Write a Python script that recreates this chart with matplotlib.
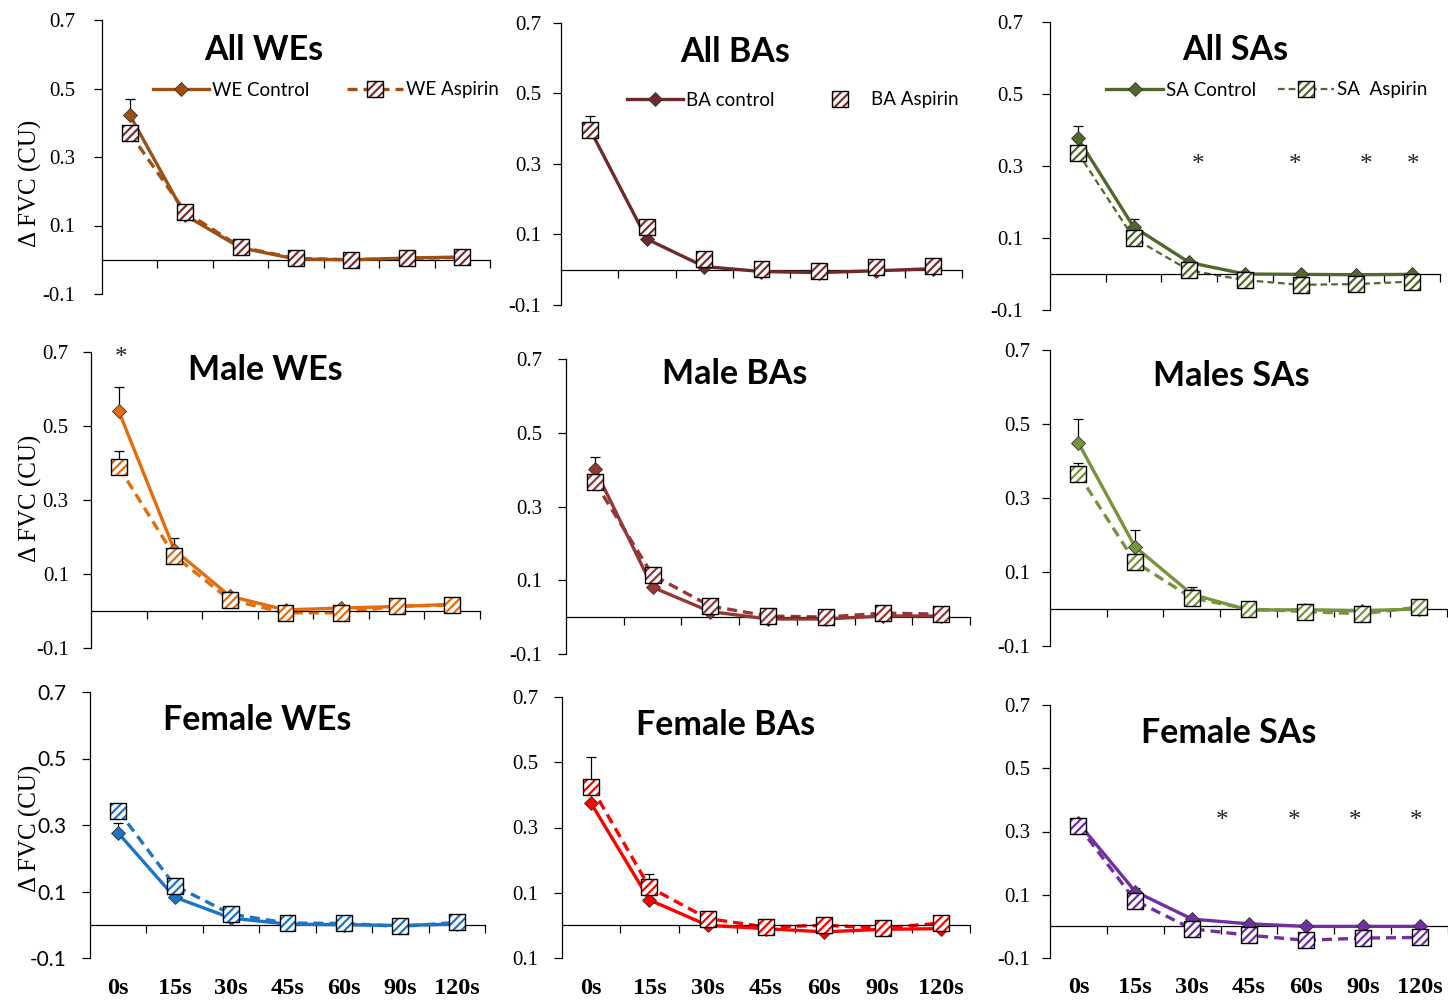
import numpy as np
import matplotlib.pyplot as plt
from matplotlib.legend_handler import HandlerBase
from matplotlib.lines import Line2D
from matplotlib.patches import Rectangle

W, H = 1448, 1002

times = ["0s", "15s", "30s", "45s", "60s", "90s", "120s"]
yticks = [-0.1, 0.1, 0.3, 0.5, 0.7]

# All WEs
we_all_ctrl = [0.423, 0.13, 0.035, 0.002, 0.0, 0.005, 0.008]
we_all_asp = [0.37, 0.14, 0.037, 0.004, 0.0, 0.004, 0.007]
we_all_ctrl_err = [0.046, 0, 0, 0, 0, 0, 0]
we_all_asp_err = [0, 0, 0, 0, 0, 0, 0]

# All BAs
ba_all_ctrl = [0.40, 0.087, 0.009, -0.005, -0.008, -0.003, 0.003]
ba_all_asp = [0.397, 0.12, 0.03, 0.001, -0.003, 0.007, 0.012]
ba_all_ctrl_err = [0.035, 0, 0, 0, 0, 0, 0]
ba_all_asp_err = [0, 0, 0, 0, 0, 0, 0]

# All SAs
sa_all_ctrl = [0.377, 0.131, 0.032, 0.0, -0.001, -0.002, -0.001]
sa_all_asp = [0.337, 0.10, 0.01, -0.017, -0.03, -0.028, -0.021]
sa_all_ctrl_err = [0.033, 0.022, 0, 0, 0, 0, 0]
sa_all_asp_err = [0, 0, 0, 0, 0, 0, 0]
sa_all_stars = [2.16, 3.9, 5.17, 6.02]
sa_all_star_y = 0.303

# Male WEs
we_m_ctrl = [0.54, 0.165, 0.04, 0.003, 0.008, 0.012, 0.018]
we_m_asp = [0.389, 0.149, 0.03, -0.005, -0.005, 0.013, 0.016]
we_m_ctrl_err = [0.065, 0.032, 0, 0, 0, 0, 0]
we_m_asp_err = [0.043, 0, 0, 0, 0, 0, 0]
we_m_stars = [0.04]
we_m_star_y = 0.685

# Male BAs
ba_m_ctrl = [0.402, 0.081, 0.015, -0.005, -0.005, 0.003, 0.003]
ba_m_asp = [0.366, 0.114, 0.03, 0.003, 0.0, 0.011, 0.008]
ba_m_ctrl_err = [0.032, 0, 0, 0, 0, 0, 0]
ba_m_asp_err = [0, 0, 0, 0, 0, 0, 0]

# Males SAs
sa_m_ctrl = [0.449, 0.168, 0.04, -0.003, -0.002, -0.005, 0.0]
sa_m_asp = [0.365, 0.127, 0.03, 0.0, -0.007, -0.013, 0.005]
sa_m_ctrl_err = [0.065, 0.046, 0.02, 0, 0, 0, 0]
sa_m_asp_err = [0.03, 0, 0, 0, 0, 0, 0]

# Female WEs
we_f_ctrl = [0.276, 0.083, 0.02, 0.002, 0.0, -0.002, 0.002]
we_f_asp = [0.343, 0.118, 0.032, 0.005, 0.004, -0.005, 0.007]
we_f_ctrl_err = [0.03, 0, 0, 0, 0, 0, 0]
we_f_asp_err = [0.012, 0, 0, 0, 0, 0, 0]

# Female BAs
ba_f_ctrl = [0.374, 0.078, 0.0, -0.01, -0.02, -0.012, -0.01]
ba_f_asp = [0.425, 0.117, 0.021, -0.005, 0.0, -0.008, 0.007]
ba_f_ctrl_err = [0, 0, 0, 0, 0, 0, 0]
ba_f_asp_err = [0.09, 0.041, 0, 0, 0, 0, 0]

# Female SAs
sa_f_ctrl = [0.327, 0.11, 0.023, 0.008, 0.0, 0.0, 0.0]
sa_f_asp = [0.318, 0.081, -0.008, -0.028, -0.044, -0.037, -0.035]
sa_f_ctrl_err = [0, 0.01, 0, 0, 0, 0, 0]
sa_f_asp_err = [0, 0, 0, 0, 0, 0, 0]
sa_f_stars = [2.52, 3.8, 4.86, 5.93]
sa_f_star_y = 0.332

plt.rcParams['hatch.linewidth'] = 1.6
SERIF = 'Liberation Serif'
SANS = 'Lato'
SQ = 11.5  # square marker side in points


class HatchSquareHandler(HandlerBase):
    """Legend key: optional dashed line with a hatched square on top."""

    def __init__(self, color, hatch_color, line=True, lw=2.4):
        super().__init__()
        self.color, self.hatch_color, self.line, self.lw = color, hatch_color, line, lw

    def create_artists(self, legend, orig_handle, xdescent, ydescent,
                       width, height, fontsize, trans):
        cx = -xdescent + width / 2
        cy = -ydescent + height / 2
        arts = []
        if self.line:
            arts.append(Line2D([-xdescent, -xdescent + width], [cy, cy],
                               color=self.color, lw=self.lw, dashes=(3, 1.8),
                               transform=trans))
        arts.append(Rectangle((cx - SQ / 2, cy - SQ / 2), SQ, SQ,
                              facecolor='white', edgecolor=self.hatch_color,
                              hatch='////', lw=0, transform=trans))
        arts.append(Rectangle((cx - SQ / 2, cy - SQ / 2), SQ, SQ,
                              facecolor='none', edgecolor='black', lw=1.0,
                              transform=trans))
        return arts


# box = (left, top, right, bottom) in pixels
panels = [
    dict(title="All WEs", tpos=(264, 50), box=(102, 20, 490, 294), pad=13,
         ctrl=we_all_ctrl, asp=we_all_asp, ce=we_all_ctrl_err, ae=we_all_asp_err,
         color='#9E5014', hatch='#7B2E2E',
         legend=("WE Control", "WE Aspirin"), lpos=(326, 90), colsp=2.0),
    dict(title="All BAs", tpos=(735, 52), box=(561, 23, 962, 305), pad=8,
         ctrl=ba_all_ctrl, asp=ba_all_asp, ce=ba_all_ctrl_err, ae=ba_all_asp_err,
         color='#6E2A2A', hatch='#7B2E2E', asp_line=False,
         legend=("BA control", "BA Aspirin"), lpos=(793, 100), colsp=2.0),
    dict(title="All SAs", tpos=(1235, 50), box=(1050, 22, 1440, 310), pad=13,
         ctrl=sa_all_ctrl, asp=sa_all_asp, ce=sa_all_ctrl_err, ae=sa_all_asp_err,
         color='#50682A', hatch='#50682A', asp_lw=1.6,
         stars=sa_all_stars, star_y=sa_all_star_y,
         legend=("SA Control", "SA  Aspirin"), lpos=(1267, 90), colsp=1.2),
    dict(title="Male WEs", tpos=(265, 370), box=(91, 352, 480, 648), pad=10,
         ctrl=we_m_ctrl, asp=we_m_asp, ce=we_m_ctrl_err, ae=we_m_asp_err,
         color='#E46C0A', hatch='#E46C0A', stars=we_m_stars, star_y=we_m_star_y),
    dict(title="Male BAs", tpos=(735, 374), box=(566, 359, 970, 654), pad=11,
         ctrl=ba_m_ctrl, asp=ba_m_asp, ce=ba_m_ctrl_err, ae=ba_m_asp_err,
         color='#953735', hatch='#953735'),
    dict(title="Males SAs", tpos=(1231, 376), box=(1050, 350, 1447, 646), pad=8,
         ctrl=sa_m_ctrl, asp=sa_m_asp, ce=sa_m_ctrl_err, ae=sa_m_asp_err,
         color='#77933C', hatch='#77933C'),
    dict(title="Female WEs", tpos=(257, 720), box=(90, 692, 485, 958), pad=11,
         ctrl=we_f_ctrl, asp=we_f_asp, ce=we_f_ctrl_err, ae=we_f_asp_err,
         color='#1B75C2', hatch='#1B75C2', tickfont=SANS),
    dict(title="Female BAs", tpos=(726, 725), box=(562, 697, 970, 958), pad=11,
         ctrl=ba_f_ctrl, asp=ba_f_asp, ce=ba_f_ctrl_err, ae=ba_f_asp_err,
         color='#FF0000', hatch='#FF0000',
         ylabels=["0.1", "0.1", "0.3", "0.5", "0.7"]),
    dict(title="Female SAs", tpos=(1229, 733), box=(1050, 705, 1448, 958), pad=8,
         ctrl=sa_f_ctrl, asp=sa_f_asp, ce=sa_f_ctrl_err, ae=sa_f_asp_err,
         color='#7030A0', hatch='#7030A0',
         stars=sa_f_stars, star_y=sa_f_star_y),
]

fig = plt.figure(figsize=(W / 100, H / 100), dpi=100)

for k, p in enumerate(panels):
    plt.rcParams['hatch.color'] = p['hatch']
    l, t, r, b = p['box']
    ax = fig.add_axes([l / W, 1 - b / H, (r - l) / W, (b - t) / H])
    x = np.arange(len(times))
    c = p['color']

    # upper error bars only
    for vals, errs in ((p['ctrl'], p['ce']), (p['asp'], p['ae'])):
        e = np.array(errs, dtype=float)
        m = e > 0
        if m.any():
            ax.errorbar(x[m], np.array(vals)[m], yerr=[np.zeros(m.sum()), e[m]],
                        fmt='none', ecolor='black', elinewidth=0.9,
                        capsize=3.5, capthick=0.9, zorder=2.5)

    ctrl_line, = ax.plot(x, p['ctrl'], color=c, lw=2.4, marker='D', ms=7,
                         mfc=c, mec='#333333', mew=0.6, zorder=3)
    asp_line = p.get('asp_line', True)
    if asp_line:
        ax.plot(x, p['asp'], color=c, lw=p.get('asp_lw', 2.4),
                dashes=(3, 1.8), zorder=2)
    ax.scatter(x, p['asp'], s=SQ ** 2, marker='s', facecolor='white',
               edgecolor=p['hatch'], hatch='////', linewidths=0, zorder=4)
    ax.scatter(x, p['asp'], s=SQ ** 2, marker='s', facecolor='none',
               edgecolor='black', linewidths=1.0, zorder=5)

    for sx in p.get('stars', []):
        ax.text(sx, p['star_y'], "*", ha='center', va='center',
                family=SERIF, fontsize=18, color='#222222')

    ax.set_xlim(-0.5, 6.5)
    ax.set_ylim(-0.1, 0.7)
    ax.spines[['top', 'right']].set_visible(False)
    ax.spines['bottom'].set_position(('data', 0))
    for s in ('left', 'bottom'):
        ax.spines[s].set_linewidth(0.9)
    ax.set_xticks(np.arange(0.5, 7, 1))
    ax.set_xticklabels([])
    ax.set_yticks(yticks)
    ax.set_yticklabels(p.get('ylabels', ["-0.1", "0.1", "0.3", "0.5", "0.7"]),
                       family=p.get('tickfont', SERIF), fontsize=15)
    ax.tick_params(axis='x', direction='out', length=6, width=0.9)
    ax.tick_params(axis='y', direction='out', length=6, width=0.9, pad=p['pad'])
    ax.patch.set_alpha(0)

    fig.text(p['tpos'][0] / W, 1 - p['tpos'][1] / H, p['title'], ha='center',
             va='center', family=SANS, weight='bold', fontsize=24.5)

    if k >= 6:
        for i, lab in enumerate(times):
            ax.text(i, -0.115, lab, transform=ax.get_xaxis_transform(),
                    ha='center', va='center', family=SERIF, weight='bold',
                    fontsize=17.5)

    if 'legend' in p:
        key = Rectangle((0, 0), 1, 1)
        handler = HatchSquareHandler(c, p['hatch'], line=asp_line,
                                     lw=p.get('asp_lw', 2.4))
        fig.legend([ctrl_line, key], list(p['legend']), ncol=2,
                   loc='center', frameon=False,
                   bbox_to_anchor=(p['lpos'][0] / W, 1 - p['lpos'][1] / H),
                   handler_map={key: handler},
                   numpoints=1, handlelength=3.0,
                   handletextpad=0.15, columnspacing=p['colsp'],
                   prop={'family': SANS, 'size': 13.5})

# y-axis labels on the left column
for yc in (183, 498, 828):
    fig.text(30 / W, 1 - yc / H, "\u0394 FVC (CU)", rotation=90, ha='center',
             va='center', family=SERIF, fontsize=18)

fig.savefig("out.png", dpi=100)
